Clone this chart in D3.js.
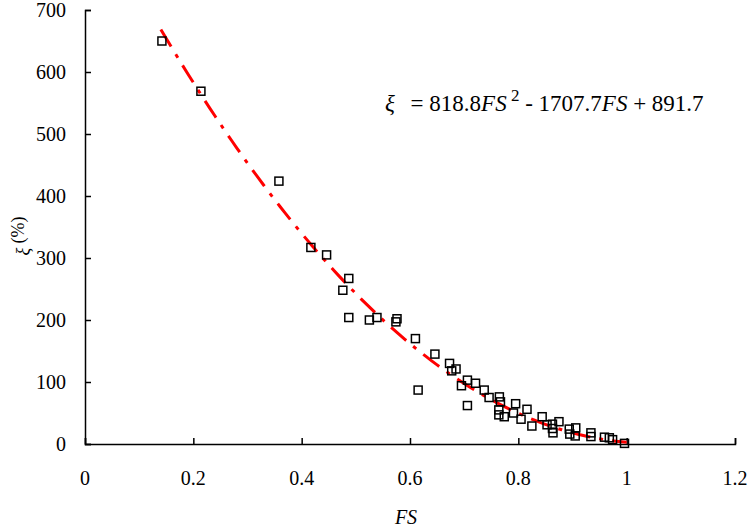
<!DOCTYPE html>
<html>
<head>
<meta charset="utf-8">
<script src="https://cdn.jsdelivr.net/npm/d3@7"></script>
<style>
  body { margin: 0; background: #fff; }
  svg text { font-family: "Liberation Serif", "Times New Roman", serif; fill: #000; }
</style>
</head>
<body>
<svg id="chart" width="749" height="528"></svg>
<script>
var fsValues = [0.142, 0.214, 0.358, 0.417, 0.446, 0.487, 0.476, 0.487, 0.525, 0.539,
    0.576, 0.574, 0.610, 0.646, 0.673, 0.685, 0.677, 0.615, 0.706, 0.695,
    0.721, 0.706, 0.737, 0.746, 0.765, 0.767, 0.764, 0.764, 0.774, 0.795,
    0.791, 0.816, 0.805, 0.825, 0.844, 0.853, 0.863, 0.875, 0.863, 0.864,
    0.894, 0.906, 0.895, 0.905, 0.934, 0.934, 0.959, 0.968, 0.974, 0.996];
var xiValues = [650, 569, 424, 317, 305, 267, 248, 204, 200, 204,
    202, 197, 170, 145, 130, 121, 118, 87, 103, 94,
    98, 62, 87, 75, 76, 68, 55, 47, 44, 65,
    50, 56, 40, 29, 44, 31, 32, 36, 25, 18,
    24, 26, 16, 13, 18, 12, 11, 10, 7, 1];

// trendline coefficients: ξ = a·FS² + b·FS + c
var fitCoef = [818.8, -1707.7, 891.7];
var fitRange = [0.14, 1.0];

var xTicks = [0, 0.2, 0.4, 0.6, 0.8, 1, 1.2];
var yTicks = [0, 100, 200, 300, 400, 500, 600, 700];

var svg = d3.select('#chart');

var x = d3.scaleLinear().domain([0, 1.2]).range([85, 735]);
var y = d3.scaleLinear().domain([0, 700]).range([444, 10]);

var points = fsValues.map(function(d, i) { return {fs: d, xi: xiValues[i]}; });

// axes
var xAxis = svg.append('g').attr('transform', 'translate(0,' + y(0) + ')')
    .call(d3.axisTop(x).tickValues(xTicks).tickSize(6).tickFormat(''));
var yAxis = svg.append('g').attr('transform', 'translate(' + x(0) + ',0)')
    .call(d3.axisRight(y).tickValues(yTicks).tickSize(6).tickFormat(''));

[xAxis, yAxis].forEach(function(a) {
    a.select('.domain').attr('stroke', '#000').attr('stroke-width', 1.5);
    a.selectAll('.tick line').attr('stroke', '#000').attr('stroke-width', 1.5);
});

svg.append('g').selectAll('text')
    .data(xTicks).enter().append('text')
    .attr('x', function(d) { return x(d); })
    .attr('y', 485)
    .attr('text-anchor', 'middle')
    .style('font-size', '20px')
    .text(function(d) { return d3.format('~g')(d); });

svg.append('g').selectAll('text')
    .data(yTicks).enter().append('text')
    .attr('x', 66)
    .attr('y', function(d) { return y(d) + 7; })
    .attr('text-anchor', 'end')
    .style('font-size', '20px')
    .text(function(d) { return d; });

// axis titles
svg.append('text')
    .attr('x', 406)
    .attr('y', 524)
    .attr('text-anchor', 'middle')
    .style('font-size', '20px')
    .style('font-style', 'italic')
    .text('FS');

var yTitle = svg.append('text')
    .attr('transform', 'translate(24,236) rotate(-90)')
    .attr('text-anchor', 'middle')
    .style('font-size', '18px');
yTitle.append('tspan').attr('dy', 5).style('font-style', 'italic').text('ξ');
yTitle.append('tspan').attr('dy', -5).text(' (%)');

// trendline
var fit = function(v) { return fitCoef[0] * v * v + fitCoef[1] * v + fitCoef[2]; };
var fitPts = d3.range(fitRange[0], fitRange[1] + 0.001, 0.01).map(function(v) { return [v, fit(v)]; });

svg.append('path')
    .datum(fitPts)
    .attr('fill', 'none')
    .attr('stroke', '#ff0000')
    .attr('stroke-width', 3)
    .attr('stroke-dasharray', '20,9,4,9')
    .attr('d', d3.line().x(function(d) { return x(d[0]); }).y(function(d) { return y(d[1]); }));

// data squares
var S = 8;
svg.append('g').selectAll('rect')
    .data(points).enter().append('rect')
    .attr('x', function(d) { return x(d.fs) - S / 2; })
    .attr('y', function(d) { return y(d.xi) - S / 2; })
    .attr('width', S)
    .attr('height', S)
    .attr('fill', 'none')
    .attr('stroke', '#000')
    .attr('stroke-width', 1.5);

// equation
var eq = svg.append('text')
    .attr('x', 385)
    .attr('y', 111)
    .style('font-size', '23px');
eq.append('tspan').style('font-style', 'italic').text('ξ');
eq.append('tspan').attr('dx', 10).text(' = 818.8');
eq.append('tspan').style('font-style', 'italic').text('FS');
eq.append('tspan').attr('dy', -10).style('font-size', '17px').text(' 2');
eq.append('tspan').attr('dy', 10).text(' - 1707.7');
eq.append('tspan').style('font-style', 'italic').text('FS');
eq.append('tspan').text('  + 891.7');
</script>
</body>
</html>
